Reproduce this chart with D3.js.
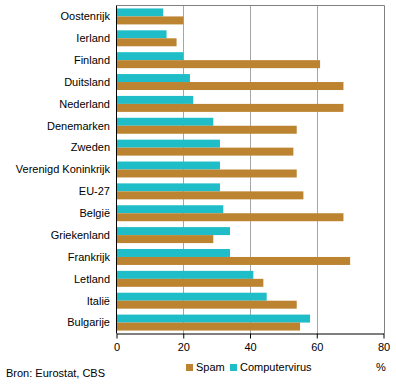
<!DOCTYPE html>
<html><head><meta charset="utf-8">
<script src="https://cdn.jsdelivr.net/npm/d3@7"></script>
<style>body{margin:0;background:#fff}svg{display:block}text{font-family:"Liberation Sans",Arial,sans-serif;font-size:11px;fill:#000}</style>
</head><body><svg id="c" width="396" height="389"></svg>
<script>
const categories = ["Oostenrijk","Ierland","Finland","Duitsland","Nederland","Denemarken","Zweden","Verenigd Koninkrijk","EU-27","België","Griekenland","Frankrijk","Letland","Italië","Bulgarije"];
const computervirus = [14,15,20,22,23,29,31,31,31,32,34,34,41,45,58];
const spam = [20,18,61,68,68,54,53,54,56,68,29,70,44,54,55];
const xTicks = [0,20,40,60,80];
const seriesNames = ["Computervirus","Spam"];
const colors = {"Computervirus":"#1ebdc7","Spam":"#bc8431"};

const svg = d3.select("#c");
const L=116.5, R=383.5, T=5.5, B=333.5;
const x = d3.scaleLinear().domain([0,80]).range([L,R]);
const y = d3.scaleBand().domain(categories).range([T,B]).paddingInner(0.27).paddingOuter(0.135);
const y1 = d3.scaleBand().domain(seriesNames).range([0,y.bandwidth()]);

// gridlines
svg.append("g").selectAll("line").data(xTicks.filter(d=>d>0&&d<80)).join("line")
  .attr("x1",d=>Math.round(x(d))+0.5).attr("x2",d=>Math.round(x(d))+0.5)
  .attr("y1",T).attr("y2",B).attr("stroke","#a6a6a6");
// frame top/right
svg.append("path").attr("d",`M${L},${T}H${Math.round(R)+0.5}V${B}`).attr("fill","none").attr("stroke","#808080");

const data = categories.map((c,i)=>({c, vals:[{k:"Computervirus",v:computervirus[i]},{k:"Spam",v:spam[i]}]}));
const g = svg.append("g").selectAll("g").data(data).join("g").attr("transform",d=>`translate(0,${y(d.c)})`);
g.selectAll("rect").data(d=>d.vals).join("rect")
  .attr("x",x(0)).attr("y",d=>y1(d.k)).attr("height",y1.bandwidth())
  .attr("width",d=>x(d.v)-x(0)).attr("fill",d=>colors[d.k]);

// category labels
svg.append("g").selectAll("text").data(categories).join("text")
  .attr("x",110).attr("y",d=>y(d)+y.bandwidth()/2).attr("dy","0.35em").attr("text-anchor","end").text(d=>d);

// axes
const xa = svg.append("g").attr("transform",`translate(0,${B})`)
  .call(d3.axisBottom(x).tickValues(xTicks).tickSize(5).tickPadding(5).tickSizeOuter(0));
xa.select(".domain").attr("stroke","#000");
xa.selectAll(".tick line").attr("stroke","#000");
xa.selectAll("text").attr("font-size","11px").attr("font-family","Liberation Sans, Arial, sans-serif");
svg.append("line").attr("x1",L).attr("x2",L).attr("y1",T).attr("y2",B).attr("stroke","#000");

// legend
const leg = [{k:"Spam",x:186},{k:"Computervirus",x:230}];
leg.forEach(l=>{
  svg.append("rect").attr("x",l.x).attr("y",364).attr("width",7).attr("height",7).attr("fill",colors[l.k]);
  svg.append("text").attr("x",l.x+10).attr("y",371).text(l.k);
});
svg.append("text").attr("x",381).attr("y",371).attr("text-anchor","middle").text("%");
svg.append("text").attr("x",6).attr("y",377).text("Bron: Eurostat, CBS");
</script></body></html>
